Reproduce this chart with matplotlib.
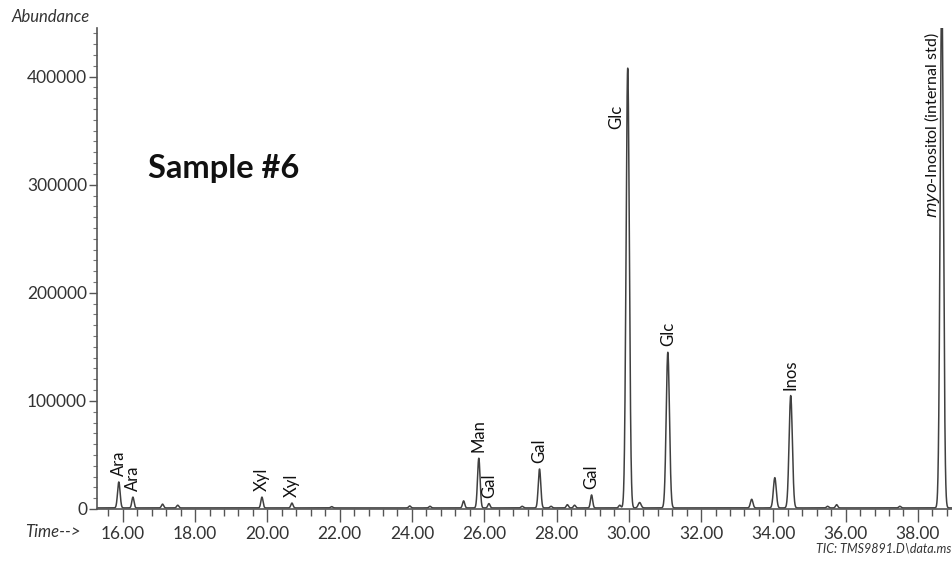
import numpy as np
import matplotlib
matplotlib.use("Agg")
import matplotlib.pyplot as plt
from matplotlib.ticker import MultipleLocator, FuncFormatter

plt.rcParams['font.family'] = ['Lato', 'DejaVu Sans']

# peak list: retention time (min), height, width (sigma, min)
peak_times = [15.89, 16.28, 17.10, 17.52, 19.85, 20.68, 21.78, 23.94, 24.50,
              25.43, 25.85, 26.13, 27.05, 27.53, 27.85, 28.30, 28.50, 28.97,
              29.75, 29.97, 30.30, 31.08, 33.40, 34.04, 34.48, 35.50, 35.75,
              37.50, 38.66]
peak_heights = [24000, 10000, 3500, 2500, 10000, 4500, 1200, 1800, 1500,
                6500, 46000, 4000, 1500, 36000, 1500, 3000, 2500, 12000,
                2500, 407000, 5000, 144000, 8000, 28000, 104000, 1500, 3000,
                1500, 480000]
peak_widths = [0.035, 0.03, 0.03, 0.03, 0.03, 0.03, 0.03, 0.03, 0.03,
               0.03, 0.035, 0.03, 0.03, 0.035, 0.03, 0.03, 0.03, 0.03,
               0.03, 0.045, 0.04, 0.045, 0.035, 0.04, 0.045, 0.03, 0.03,
               0.03, 0.045]
baseline = 1000

# labelled peaks
label_names = ['Ara', 'Ara', 'Xyl', 'Xyl', 'Man', 'Gal', 'Gal', 'Gal', 'Glc', 'Inos']
label_times = [15.89, 16.28, 19.85, 20.68, 25.85, 26.13, 27.53, 28.97, 31.08, 34.48]
label_heights = [24000, 10000, 10000, 4500, 46000, 4000, 36000, 12000, 144000, 104000]

t = np.linspace(15.3, 38.97, 8000)
signal = np.full_like(t, baseline, dtype=float)
for rt, h, w in zip(peak_times, peak_heights, peak_widths):
    signal += h * np.exp(-0.5 * ((t - rt) / w) ** 2)

fig = plt.figure(figsize=(9.53, 5.61), dpi=100)
ax = fig.add_axes([0.1023, 0.0927, 0.8977, 0.8574])
ax.plot(t, signal, color='#404040', lw=1.1)

ax.set_xlim(15.3, 38.97)
ax.set_ylim(0, 445000)
for s in ['top', 'right']:
    ax.spines[s].set_visible(False)
for s in ['left', 'bottom']:
    ax.spines[s].set_color('#555555')
    ax.spines[s].set_linewidth(1.2)

ax.xaxis.set_major_locator(MultipleLocator(2))
ax.xaxis.set_minor_locator(MultipleLocator(0.4))
ax.xaxis.set_major_formatter(FuncFormatter(lambda v, p: f"{v:.2f}"))
ax.yaxis.set_major_locator(MultipleLocator(100000))
ax.yaxis.set_minor_locator(MultipleLocator(10000))
ax.yaxis.set_major_formatter(FuncFormatter(lambda v, p: f"{int(v)}"))
ax.tick_params(axis='x', which='major', length=9, width=1, color='#555555',
               labelsize=12.5, labelcolor='#333333', pad=3)
ax.tick_params(axis='x', which='minor', length=5, width=1, color='#555555')
ax.tick_params(axis='y', which='major', length=6, width=1, color='#555555',
               labelsize=12.5, labelcolor='#333333', pad=1.5)
ax.tick_params(axis='y', which='minor', length=3, width=0.8, color='#777777')

for name, rt, h in zip(label_names, label_times, label_heights):
    ax.annotate(name, (rt, h), xytext=(0, 5), textcoords='offset points',
                rotation=90, ha='center', va='bottom', fontsize=12, color='#111111')

# labels placed to the left of the two tallest peaks
ax.annotate('Glc', (29.97, 407000), xytext=(-8, -26), textcoords='offset points',
            rotation=90, ha='center', va='top', fontsize=12, color='#111111')
ax.text(38.38, 441000, r'$\mathit{myo}$' + '-Inositol (internal std)', rotation=90,
        ha='center', va='top', fontsize=11.5, color='#111111')

fig.text(0.012, 0.970, 'Abundance', fontsize=12, style='italic', color='#333333',
         ha='left', va='center')
fig.text(0.026, 0.052, 'Time-->', fontsize=12, style='italic', color='#333333',
         ha='left', va='center')
fig.text(0.998, 0.022, 'TIC: TMS9891.D\\data.ms', fontsize=9, style='italic',
         color='#333333', ha='right', va='center')
fig.text(0.155, 0.70, 'Sample #6', fontsize=23.5, fontweight='bold', color='#111111',
         ha='left', va='center')

fig.savefig('out.png', dpi=100)
